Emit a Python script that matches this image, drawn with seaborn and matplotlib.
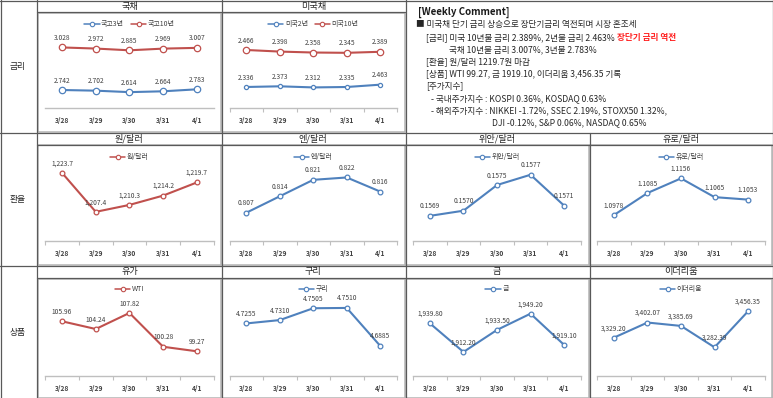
import matplotlib
matplotlib.use("Agg")
import matplotlib.pyplot as plt
import seaborn as sns
from matplotlib.lines import Line2D
from matplotlib.patches import Rectangle

sns.set_theme(style="white")
plt.rcParams['font.family'] = ['Noto Sans CJK KR', 'DejaVu Sans']

# ---------------- data ----------------
dates = ['3/28', '3/29', '3/30', '3/31', '4/1']
kr3y = [2.742, 2.702, 2.614, 2.664, 2.783]
kr10y = [3.028, 2.972, 2.885, 2.969, 3.007]
us2y = [2.336, 2.373, 2.312, 2.335, 2.463]
us10y = [2.466, 2.398, 2.358, 2.345, 2.389]
krw = [1223.7, 1207.4, 1210.3, 1214.2, 1219.7]
jpy = [0.807, 0.814, 0.821, 0.822, 0.816]
cny = [0.1569, 0.1570, 0.1575, 0.1577, 0.1571]
eur = [1.0978, 1.1085, 1.1156, 1.1065, 1.1053]
wti = [105.96, 104.24, 107.82, 100.28, 99.27]
copper = [4.7255, 4.7310, 4.7505, 4.7510, 4.6885]
gold = [1939.80, 1912.20, 1933.50, 1949.20, 1919.10]
eth = [3329.20, 3402.07, 3385.69, 3282.39, 3456.35]

row_labels = ['금리', '환율', '상품']
comment_title = '[Weekly Comment]'
comment_lines = [
    '■ 미국채 단기 금리 상승으로 장단기금리 역전되며 시장 혼조세',
    '[금리] 미국 10년물 금리 2.389%, 2년물 금리 2.463% ',
    '국채 10년물 금리 3.007%, 3년물 2.783%',
    '[환율] 원/달러 1219.7원 마감',
    '[상품] WTI 99.27, 금 1919.10, 이더리움 3,456.35 기록',
    '[주가지수]',
    '- 국내주가지수 : KOSPI 0.36%, KOSDAQ 0.63%',
    '- 해외주가지수 : NIKKEI -1.72%, SSEC 2.19%, STOXX50 1.32%,',
    'DJI -0.12%, S&P 0.06%, NASDAQ 0.65%',
]
comment_red = '장단기 금리 역전'

RED = '#C0504D'
BLUE = '#4F81BD'
TXT = '#404040'

W, H = 773, 398
fig = plt.figure(figsize=(W / 100, H / 100), dpi=100)
fig.patch.set_facecolor('white')


def fx(x):
    return x / W


def fy(y):
    return 1 - y / H


def hline(y, x0, x1, color='#595959', lw=0.9):
    fig.add_artist(Line2D([fx(x0), fx(x1)], [fy(y), fy(y)], transform=fig.transFigure,
                          color=color, lw=lw))


def vline(x, y0, y1, color='#595959', lw=0.9):
    fig.add_artist(Line2D([fx(x), fx(x)], [fy(y0), fy(y1)], transform=fig.transFigure,
                          color=color, lw=lw))


def box(x0, y0, x1, y1):
    fig.add_artist(Rectangle((fx(x0), fy(y1)), (x1 - x0) / W, (y1 - y0) / H,
                             transform=fig.transFigure, fill=False,
                             edgecolor='#b4b4b4', lw=1.1))


# chart frames (light gray)
box(38, 13, 221, 132)
box(222, 13, 405, 132)
for (y0, y1) in [(145, 265), (279, 398)]:
    box(38, y0, 221, y1)
    box(222, y0, 405, y1)
    box(406, y0, 589, y1)
    box(590, y0, 772, y1)

# table grid (dark)
hline(0.5, 0, W)
vline(0.5, 0, H)
vline(37, 0, H)
vline(772.5, 0, H)
hline(12.3, 37, 405)
vline(221.5, 0, H)
vline(405.5, 0, H)
vline(589.5, 133, H)
hline(133, 0, W)
hline(145, 37, W)
hline(265.5, 0, W)
hline(278.3, 37, W)

# row labels
for lab, y in zip(row_labels, [66, 200, 333]):
    fig.text(fx(18), fy(y), lab, ha='center', va='center', fontsize=6.3, color='#262626')

cols = [(45.2, 213.7), (229.5, 397), (413.2, 580.8), (597.2, 764.8)]


def chart(col, top, axis, series, header, header_y, legend_y, ticks=True):
    xl, xr = cols[col]
    cx = (xl + xr) / 2
    fig.text(fx(cx), fy(header_y), header, ha='center', va='center', fontsize=6.6,
             color='#262626')
    base = fig.add_axes([fx(xl), fy(axis), (xr - xl) / W, (axis - top) / H])
    base.patch.set_visible(False)
    handles, labels = [], []
    idx = list(range(len(dates)))
    for k, (vals, color, label, ylim, ms, fmt) in enumerate(series):
        a = base if k == 0 else base.twinx()
        a.patch.set_visible(False)
        sns.lineplot(x=idx, y=vals, ax=a, color=color, linewidth=1.5, marker='o',
                     markersize=ms, markerfacecolor='white', markeredgecolor=color,
                     markeredgewidth=0.9)
        if a.get_legend() is not None:
            a.get_legend().remove()
        a.set_ylim(*ylim)
        a.set_xlim(-0.5, len(dates) - 0.5)
        a.set_yticks([])
        a.set_ylabel('')
        for s in a.spines.values():
            s.set_visible(False)
        for i, v in enumerate(vals):
            a.annotate(fmt.format(v), (i, v), xytext=(0, 6.8), textcoords='offset points',
                       ha='center', va='center', fontsize=4.8, color=TXT)
        handles.append(Line2D([], [], color=color, lw=1.1, marker='o', markersize=3.2,
                              markerfacecolor='white', markeredgecolor=color,
                              markeredgewidth=0.8))
        labels.append(label)
    base.spines['bottom'].set_visible(True)
    base.spines['bottom'].set_color('#bfbfbf')
    base.spines['bottom'].set_linewidth(1.0)
    base.set_xticks(idx)
    base.set_xticklabels(dates, fontsize=4.8, color=TXT, fontweight='bold')
    base.tick_params(axis='x', which='major', bottom=True, length=0, pad=6.5)
    base.set_xticks([i - 0.5 for i in range(len(dates) + 1)], minor=True)
    base.tick_params(axis='x', which='minor', bottom=True, length=3 if ticks else 0,
                     color='#bfbfbf', width=0.8, direction='out')
    base.tick_params(axis='y', left=False, right=False, labelleft=False)
    base.set_xlabel('')
    fig.legend(handles, labels, loc='center', bbox_to_anchor=(fx(cx), fy(legend_y)),
               bbox_transform=fig.transFigure, ncol=len(handles), frameon=False,
               fontsize=5, handlelength=2.2, handletextpad=0.2, columnspacing=1.0,
               borderaxespad=0, borderpad=0, labelcolor=TXT)


# row 1
chart(0, 28, 108, [(kr3y, BLUE, '국고3년', (1.662, 6.462), 4.6, '{:.3f}'),
                   (kr10y, RED, '국고10년', (0, 4), 4.6, '{:.3f}')],
      '국채', 6, 24, ticks=False)
chart(1, 28, 108, [(us2y, BLUE, '미국2년', (1.18, 5.58), 3.0, '{:.3f}'),
                   (us10y, RED, '미국10년', (0, 3.4), 4.6, '{:.3f}')],
      '미국채', 6, 24)

# row 2
chart(0, 165, 241, [(krw, RED, '원/달러', (1195.2, 1227.0), 3.4, '{:,.1f}')],
      '원/달러', 138.5, 157)
chart(1, 165, 241, [(jpy, BLUE, '엔/달러', (0.795, 0.8273), 3.4, '{:.3f}')],
      '엔/달러', 138.5, 157)
chart(2, 165, 241, [(cny, BLUE, '위안/달러', (0.15641, 0.15789), 3.4, '{:.4f}')],
      '위안/달러', 138.5, 157)
chart(3, 165, 241, [(eur, BLUE, '유로/달러', (1.0852, 1.1221), 3.4, '{:.4f}')],
      '유로/달러', 138.5, 157)

# row 3
chart(0, 297, 376, [(wti, RED, 'WTI', (93.76, 111.38), 3.4, '{:.2f}')],
      '유가', 271.5, 289)
chart(1, 297, 376, [(copper, BLUE, '구리', (4.639, 4.769), 3.4, '{:.4f}')],
      '구리', 271.5, 289)
chart(2, 297, 376, [(gold, BLUE, '금', (1889.0, 1965.3), 3.4, '{:,.2f}')],
      '금', 271.5, 289)
chart(3, 297, 376, [(eth, BLUE, '이더리움', (3143.8, 3525.4), 3.4, '{:,.2f}')],
      '이더리움', 271.5, 289)

# weekly comment
fig.text(fx(418), fy(12.5), comment_title, ha='left', va='center', fontsize=7,
         fontweight='bold', color='#1a1a1a')
cx_pos = [416, 426, 449, 426, 426, 426, 431, 431, 492]
cy_pos = [25, 37.5, 50, 62, 73.5, 86, 98.5, 110.5, 122.5]
texts = []
for s, x, y in zip(comment_lines, cx_pos, cy_pos):
    texts.append(fig.text(fx(x), fy(y), s, ha='left', va='center', fontsize=6.2,
                          color='#262626'))
fig.canvas.draw()
r = fig.canvas.get_renderer()
bb = texts[1].get_window_extent(r)
fig.text(bb.x1 / W, fy(37.5), comment_red, ha='left', va='center', fontsize=6.2,
         fontweight='bold', color='#FF2020')

fig.savefig('out.png', dpi=100, facecolor='white')
